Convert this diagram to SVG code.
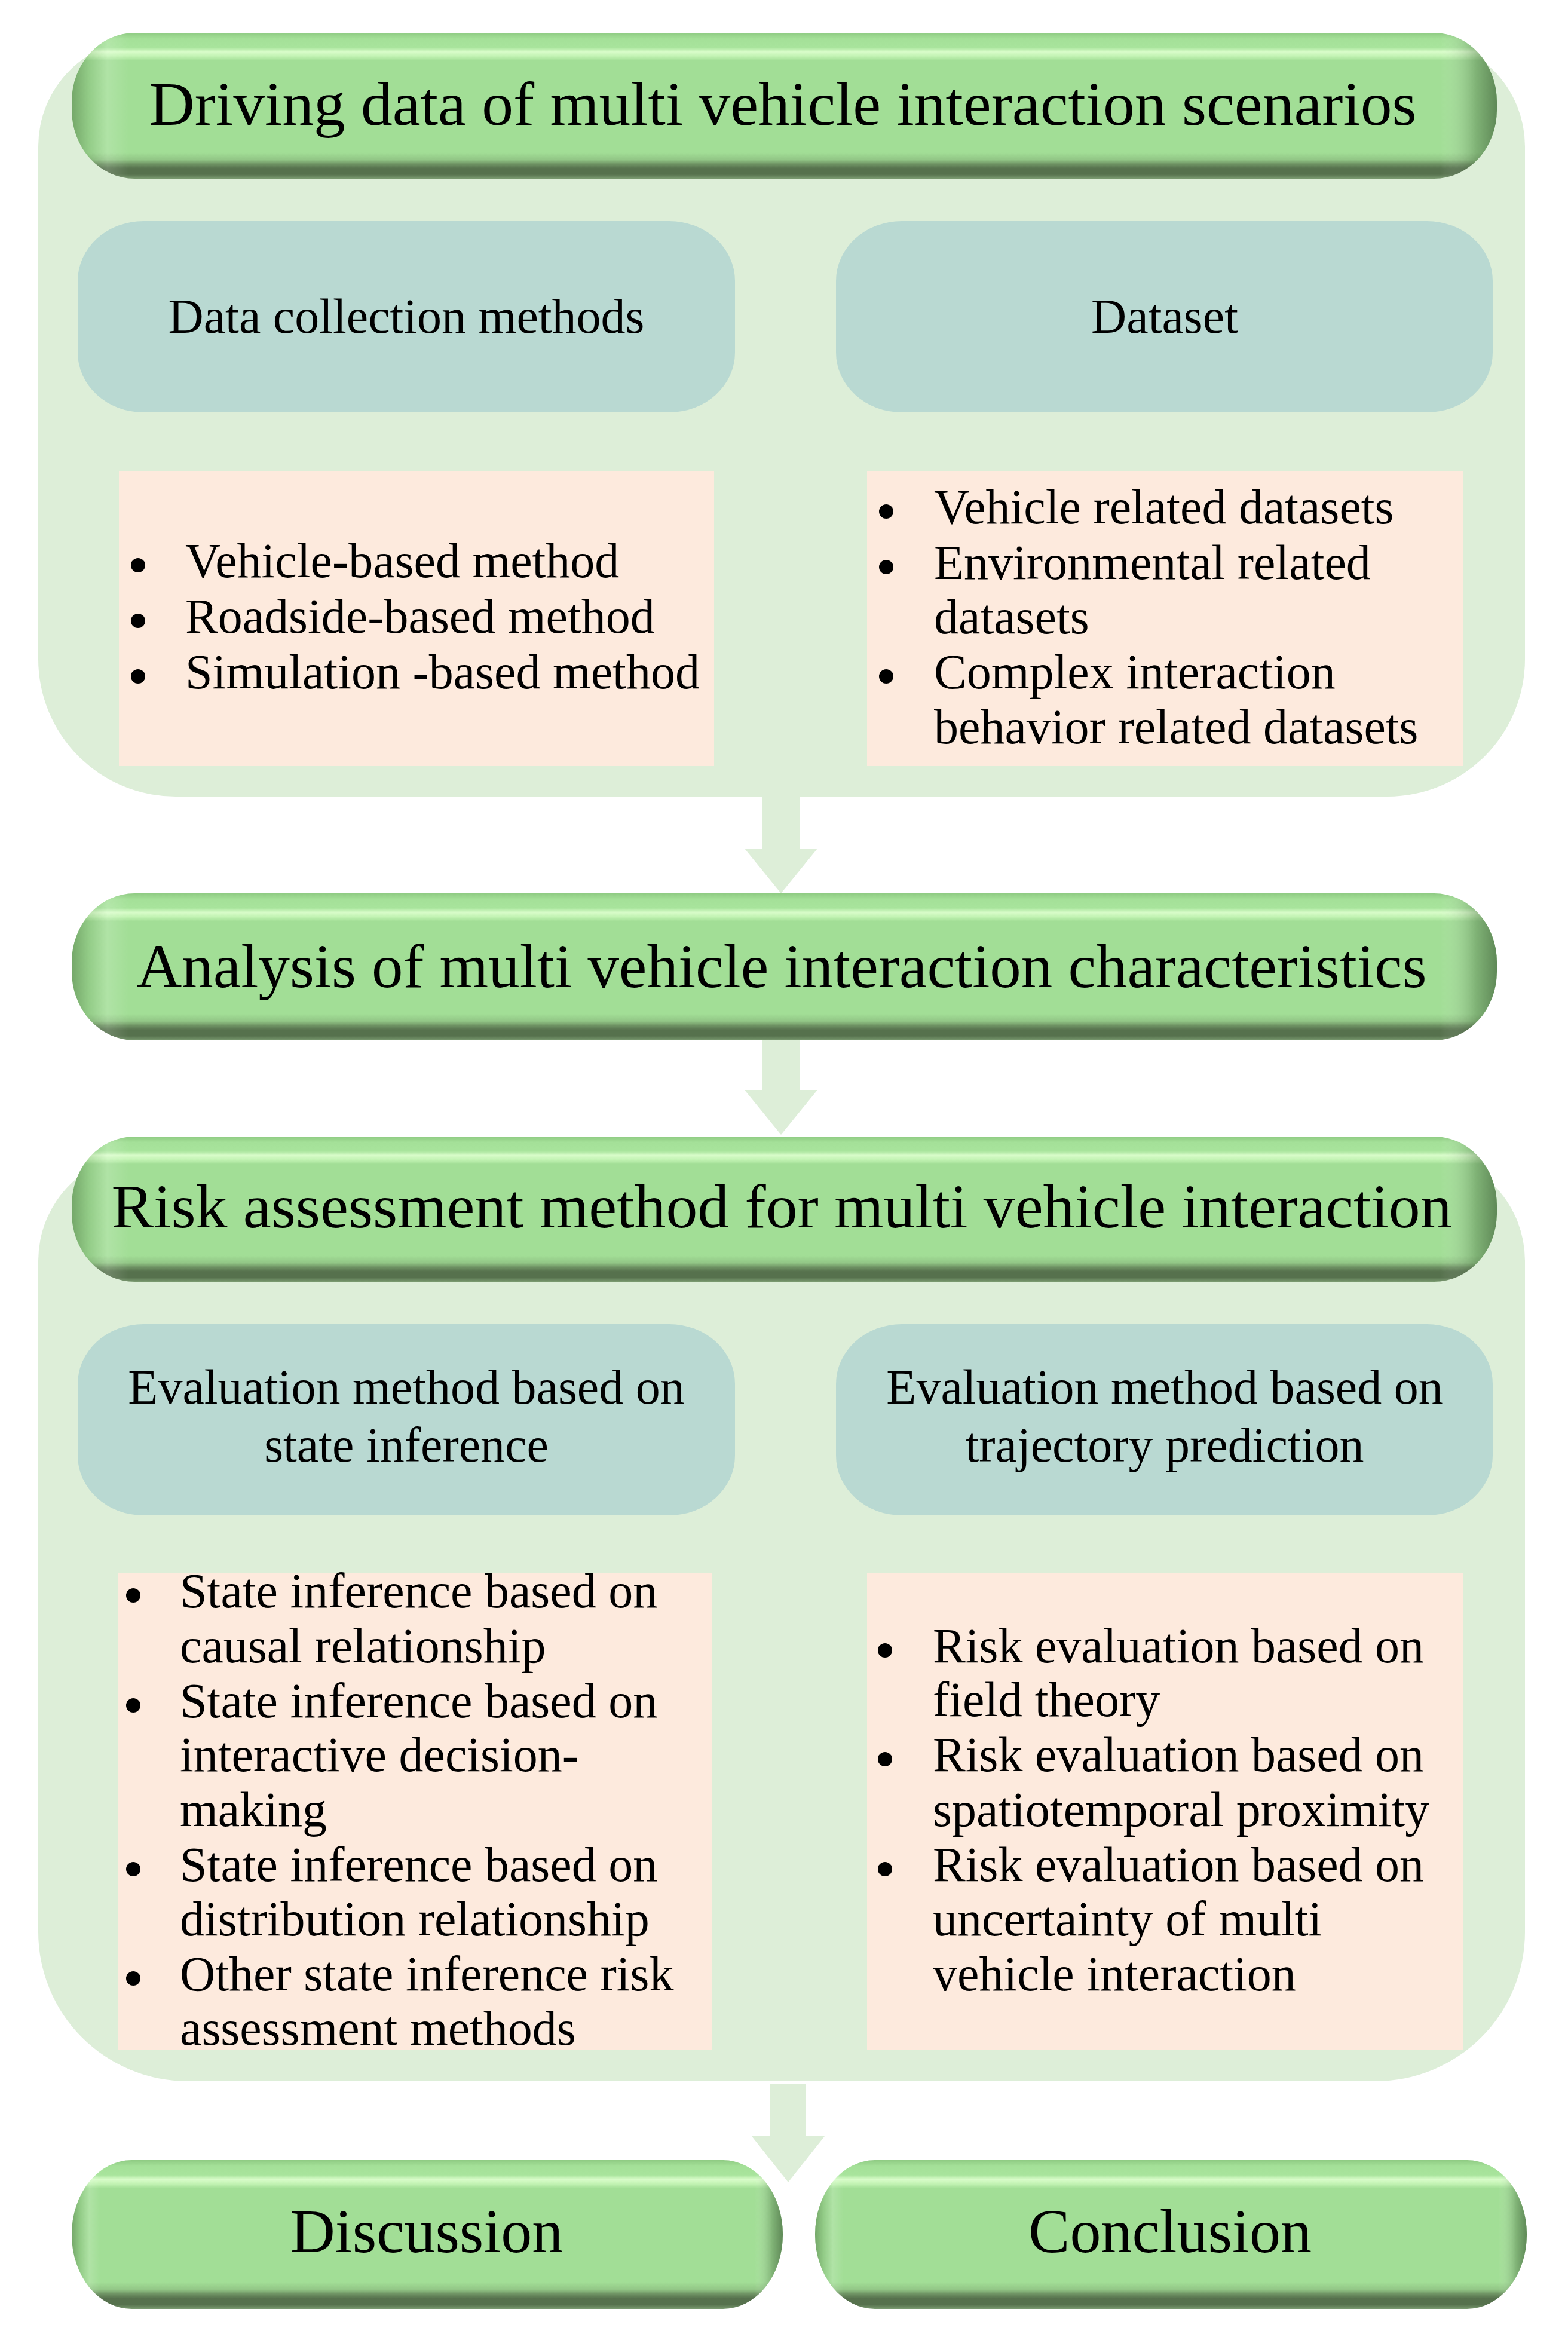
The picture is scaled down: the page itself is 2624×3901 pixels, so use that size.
<svg xmlns="http://www.w3.org/2000/svg" width="2624" height="3901" viewBox="0 0 2624 3901">
<style>
.cont{fill:#ddeed8}
.blue{fill:#b9d9d2}
.peach{fill:#fdeadd}
.arrow{fill:#ddeed8}
.pill{fill:url(#pillV)}
.pillEdge{fill:url(#pillH)}
.hd{font-family:"Liberation Serif","Times New Roman",serif;font-size:104px;fill:#000;text-anchor:middle}
.sub{font-family:"Liberation Serif","Times New Roman",serif;font-size:82px;fill:#000;text-anchor:middle}
.li{font-family:"Liberation Serif","Times New Roman",serif;font-size:82px;fill:#000}
.dot{fill:#000}
</style>
<defs>
<linearGradient id="pillV" x1="0" y1="0" x2="0" y2="1">
<stop offset="0" stop-color="#8fcb83"/>
<stop offset="0.04" stop-color="#a4e098"/>
<stop offset="0.10" stop-color="#a8e49c"/>
<stop offset="0.13" stop-color="#d8fcc9"/>
<stop offset="0.16" stop-color="#c2f3b3"/>
<stop offset="0.19" stop-color="#a2de96"/>
<stop offset="0.82" stop-color="#a2de96"/>
<stop offset="0.87" stop-color="#92c686"/>
<stop offset="0.90" stop-color="#6e9263"/>
<stop offset="0.93" stop-color="#56714d"/>
<stop offset="0.97" stop-color="#56714d"/>
<stop offset="1" stop-color="#7b9b71"/>
</linearGradient>
<linearGradient id="pillH" x1="0" y1="0" x2="1" y2="0">
<stop offset="0" stop-color="#3c6432" stop-opacity="0.45"/>
<stop offset="0.012" stop-color="#3c6432" stop-opacity="0.15"/>
<stop offset="0.025" stop-color="#ffffff" stop-opacity="0.15"/>
<stop offset="0.04" stop-color="#ffffff" stop-opacity="0"/>
<stop offset="0.96" stop-color="#ffffff" stop-opacity="0"/>
<stop offset="0.985" stop-color="#32502d" stop-opacity="0.3"/>
<stop offset="1" stop-color="#32502d" stop-opacity="0.6"/>
</linearGradient>
</defs>

<g id="container-data">
<path class="cont" d="M 244 65 H 2372 A 180 180 0 0 1 2552 245 V 1103 A 230 230 0 0 1 2322 1333 H 294 A 230 230 0 0 1 64 1103 V 245 A 180 180 0 0 1 244 65 Z"/>
</g>
<g id="container-risk">
<path class="cont" d="M 244 1930 H 2372 A 180 180 0 0 1 2552 2110 V 3233 A 250 250 0 0 1 2302 3483 H 314 A 250 250 0 0 1 64 3233 V 2110 A 180 180 0 0 1 244 1930 Z"/>
</g>

<g id="connectors">
<polygon class="arrow" points="1276,1320 1338,1320 1338,1420 1368,1420 1307,1495 1246,1420 1276,1420"/>
<polygon class="arrow" points="1276,1730 1338,1730 1338,1824 1368,1824 1307,1899 1246,1824 1276,1824"/>
<polygon class="arrow" points="1288,3488 1349,3488 1349,3575 1380,3575 1319,3652 1258,3575 1288,3575"/>
</g>

<g id="node-driving-data">
<rect class="pill" x="120" y="55" width="2385" height="244" rx="105" ry="115"/>
<rect class="pillEdge" x="120" y="55" width="2385" height="244" rx="105" ry="115"/>
<text class="hd" x="1310" y="209" textLength="2121" lengthAdjust="spacingAndGlyphs">Driving data of multi vehicle interaction scenarios</text>
</g>

<g id="node-data-collection">
<rect class="blue" x="130" y="370" width="1100" height="320" rx="110" ry="100"/>
<text class="sub" x="680" y="557">Data collection methods</text>
</g>
<g id="node-dataset">
<rect class="blue" x="1399" y="370" width="1099" height="320" rx="110" ry="100"/>
<text class="sub" x="1949" y="557">Dataset</text>
</g>

<g id="node-collection-list">
<rect class="peach" x="199" y="789" width="996" height="493"/>
<circle class="dot" cx="231" cy="946" r="12"/>
<circle class="dot" cx="231" cy="1039" r="12"/>
<circle class="dot" cx="231" cy="1132" r="12"/>
<text class="li" x="310" y="966">Vehicle-based method</text>
<text class="li" x="310" y="1059">Roadside-based method</text>
<text class="li" x="310" y="1152">Simulation -based method</text>
</g>
<g id="node-dataset-list">
<rect class="peach" x="1451" y="789" width="998" height="493"/>
<circle class="dot" cx="1483" cy="856" r="12"/>
<circle class="dot" cx="1483" cy="949" r="12"/>
<circle class="dot" cx="1483" cy="1132" r="12"/>
<text class="li" x="1563" y="876">Vehicle related datasets</text>
<text class="li" x="1563" y="969">Environmental related</text>
<text class="li" x="1563" y="1060">datasets</text>
<text class="li" x="1563" y="1152">Complex interaction</text>
<text class="li" x="1563" y="1244">behavior related datasets</text>
</g>

<g id="node-analysis">
<rect class="pill" x="120" y="1495" width="2385" height="246" rx="105" ry="115"/>
<rect class="pillEdge" x="120" y="1495" width="2385" height="246" rx="105" ry="115"/>
<text class="hd" x="1308" y="1652" textLength="2159" lengthAdjust="spacingAndGlyphs">Analysis of multi vehicle interaction characteristics</text>
</g>

<g id="node-risk">
<rect class="pill" x="120" y="1902" width="2385" height="243" rx="105" ry="115"/>
<rect class="pillEdge" x="120" y="1902" width="2385" height="243" rx="105" ry="115"/>
<text class="hd" x="1308" y="2054" textLength="2243" lengthAdjust="spacingAndGlyphs">Risk assessment method for multi vehicle interaction</text>
</g>

<g id="node-state-inference">
<rect class="blue" x="130" y="2216" width="1100" height="320" rx="110" ry="100"/>
<text class="sub" x="680" y="2349">Evaluation method based on</text>
<text class="sub" x="680" y="2446">state inference</text>
</g>
<g id="node-trajectory">
<rect class="blue" x="1399" y="2216" width="1099" height="320" rx="110" ry="100"/>
<text class="sub" x="1949" y="2349">Evaluation method based on</text>
<text class="sub" x="1949" y="2446">trajectory prediction</text>
</g>

<g id="node-state-list">
<rect class="peach" x="197" y="2633" width="994" height="797"/>
<circle class="dot" cx="223" cy="2670" r="12"/>
<circle class="dot" cx="223" cy="2854" r="12"/>
<circle class="dot" cx="223" cy="3128" r="12"/>
<circle class="dot" cx="223" cy="3311" r="12"/>
<text class="li" x="301" y="2690">State inference based on</text>
<text class="li" x="301" y="2782">causal relationship</text>
<text class="li" x="301" y="2874">State inference based on</text>
<text class="li" x="301" y="2964">interactive decision-</text>
<text class="li" x="301" y="3056">making</text>
<text class="li" x="301" y="3148">State inference based on</text>
<text class="li" x="301" y="3239">distribution relationship</text>
<text class="li" x="301" y="3331">Other state inference risk</text>
<text class="li" x="301" y="3422">assessment methods</text>
</g>
<g id="node-trajectory-list">
<rect class="peach" x="1451" y="2633" width="998" height="797"/>
<circle class="dot" cx="1481" cy="2762" r="12"/>
<circle class="dot" cx="1481" cy="2944" r="12"/>
<circle class="dot" cx="1481" cy="3128" r="12"/>
<text class="li" x="1561" y="2782">Risk evaluation based on</text>
<text class="li" x="1561" y="2872">field theory</text>
<text class="li" x="1561" y="2964">Risk evaluation based on</text>
<text class="li" x="1561" y="3056">spatiotemporal proximity</text>
<text class="li" x="1561" y="3148">Risk evaluation based on</text>
<text class="li" x="1561" y="3239">uncertainty of multi</text>
<text class="li" x="1561" y="3331">vehicle interaction</text>
</g>

<g id="node-discussion">
<rect class="pill" x="120" y="3615" width="1190" height="249" rx="100" ry="124"/>
<rect class="pillEdge" x="120" y="3615" width="1190" height="249" rx="100" ry="124"/>
<text class="hd" x="714" y="3769">Discussion</text>
</g>
<g id="node-conclusion">
<rect class="pill" x="1364" y="3615" width="1191" height="249" rx="100" ry="124"/>
<rect class="pillEdge" x="1364" y="3615" width="1191" height="249" rx="100" ry="124"/>
<text class="hd" x="1958" y="3769">Conclusion</text>
</g>
</svg>
